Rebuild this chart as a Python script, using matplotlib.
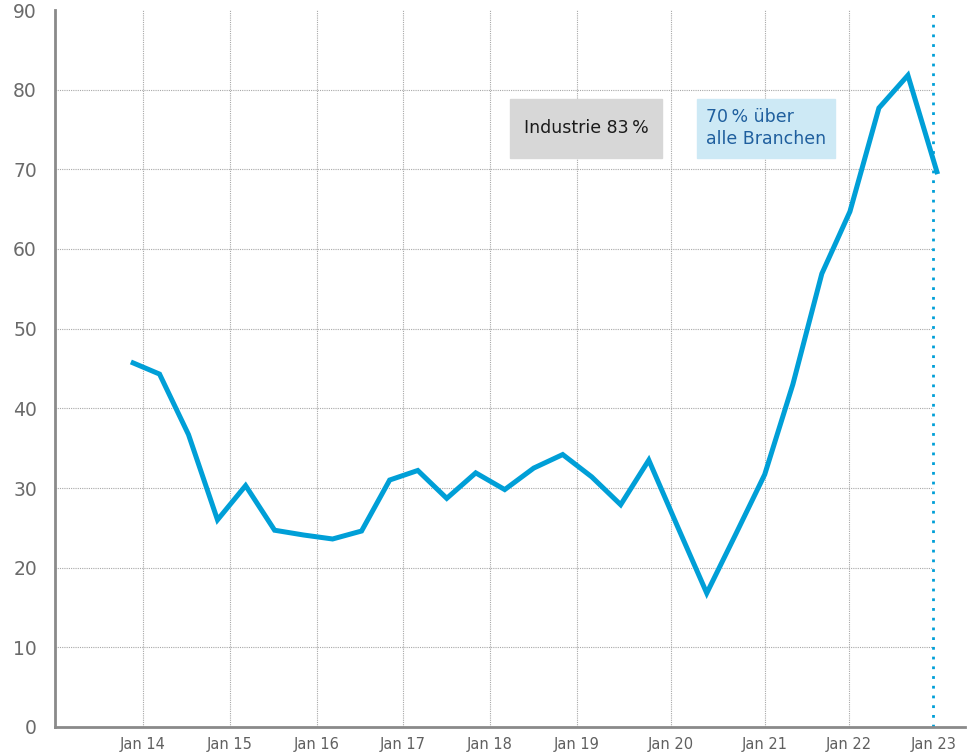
import matplotlib.pyplot as plt
import matplotlib.patches as mpatch

# values (x in decimal years)
dates = [2013.89, 2014.19, 2014.52, 2014.85, 2015.17, 2015.50, 2015.83, 2016.16,
         2016.49, 2016.81, 2017.13, 2017.46, 2017.79, 2018.12, 2018.45, 2018.78,
         2019.11, 2019.44, 2019.76, 2020.09, 2020.42, 2020.75, 2021.08, 2021.40,
         2021.73, 2022.05, 2022.38, 2022.71, 2023.04]
values = [45.7, 44.3, 36.7, 26.0, 30.3, 24.7, 24.1, 23.6,
          24.6, 31.0, 32.2, 28.7, 31.9, 29.8, 32.5, 34.2,
          31.4, 27.9, 33.5, 25.1, 16.8, 24.2, 31.7, 43.0,
          56.9, 64.7, 77.7, 81.8, 69.7]
tick_pos = [2014.0, 2014.99, 2015.98, 2016.96, 2017.95, 2018.94, 2020.01, 2021.08, 2022.04, 2023.0]
tick_labels = ["Jan 14", "Jan 15", "Jan 16", "Jan 17", "Jan 18", "Jan 19",
               "Jan 20", "Jan 21", "Jan 22", "Jan 23"]
y_ticks = [0, 10, 20, 30, 40, 50, 60, 70, 80, 90]

line_color = "#009fd7"
grid_color = "#a8a8a8"
spine_color = "#8a8a8a"

fig = plt.figure(figsize=(9.7, 7.56), dpi=100)
ax = fig.add_axes([55 / 970, 29 / 756, 910 / 970, 717 / 756])

ax.set_xlim(2013.0, 2023.36)
ax.set_ylim(0, 90)

# grid: horizontal lines stop at the last tick, vertical ones at each tick
ax.hlines(y_ticks[1:-1], 2013.0, tick_pos[-1], colors=grid_color, linestyles=(0, (1, 1)), lw=0.8, zorder=1)
ax.vlines(tick_pos[:-1], 0, 90, colors=grid_color, linestyles=(0, (1, 1)), lw=0.8, zorder=1)
ax.vlines(tick_pos[-1], 0, 90.5, colors=line_color, linestyles=(0, (1, 2.5)), lw=2, zorder=2)

ax.plot(dates, values, color=line_color, lw=3.6, solid_joinstyle="miter", zorder=3)

for s in ["top", "right"]:
    ax.spines[s].set_visible(False)
for s in ["left", "bottom"]:
    ax.spines[s].set_color(spine_color)
    ax.spines[s].set_linewidth(2)

ax.set_xticks(tick_pos)
ax.set_xticklabels(tick_labels, fontsize=10.5, color="#606060")
ax.set_yticks(y_ticks)
ax.set_yticklabels([str(v) for v in y_ticks], fontsize=13.5, color="#6a6a6a")
ax.tick_params(axis="both", length=0)
ax.tick_params(axis="x", pad=7)
ax.tick_params(axis="y", pad=13)
ax.patch.set_visible(False)

# annotation boxes
fig.patches.append(mpatch.Rectangle((510 / 970, 598 / 756), 152 / 970, 59 / 756,
                                    transform=fig.transFigure, color="#d7d7d7", zorder=0))
fig.patches.append(mpatch.Rectangle((697 / 970, 598 / 756), 138 / 970, 59 / 756,
                                    transform=fig.transFigure, color="#cde9f5", zorder=0))
fig.text(586 / 970, 628 / 756, "Industrie 83\u2009%", fontsize=12.5, color="#1a1a1a",
         ha="center", va="center")
fig.text(706 / 970, 628 / 756, "70\u2009% über\nalle Branchen", fontsize=12.5, color="#1f5f9e",
         ha="left", va="center", linespacing=1.25)

plt.savefig("out.png", dpi=100)
